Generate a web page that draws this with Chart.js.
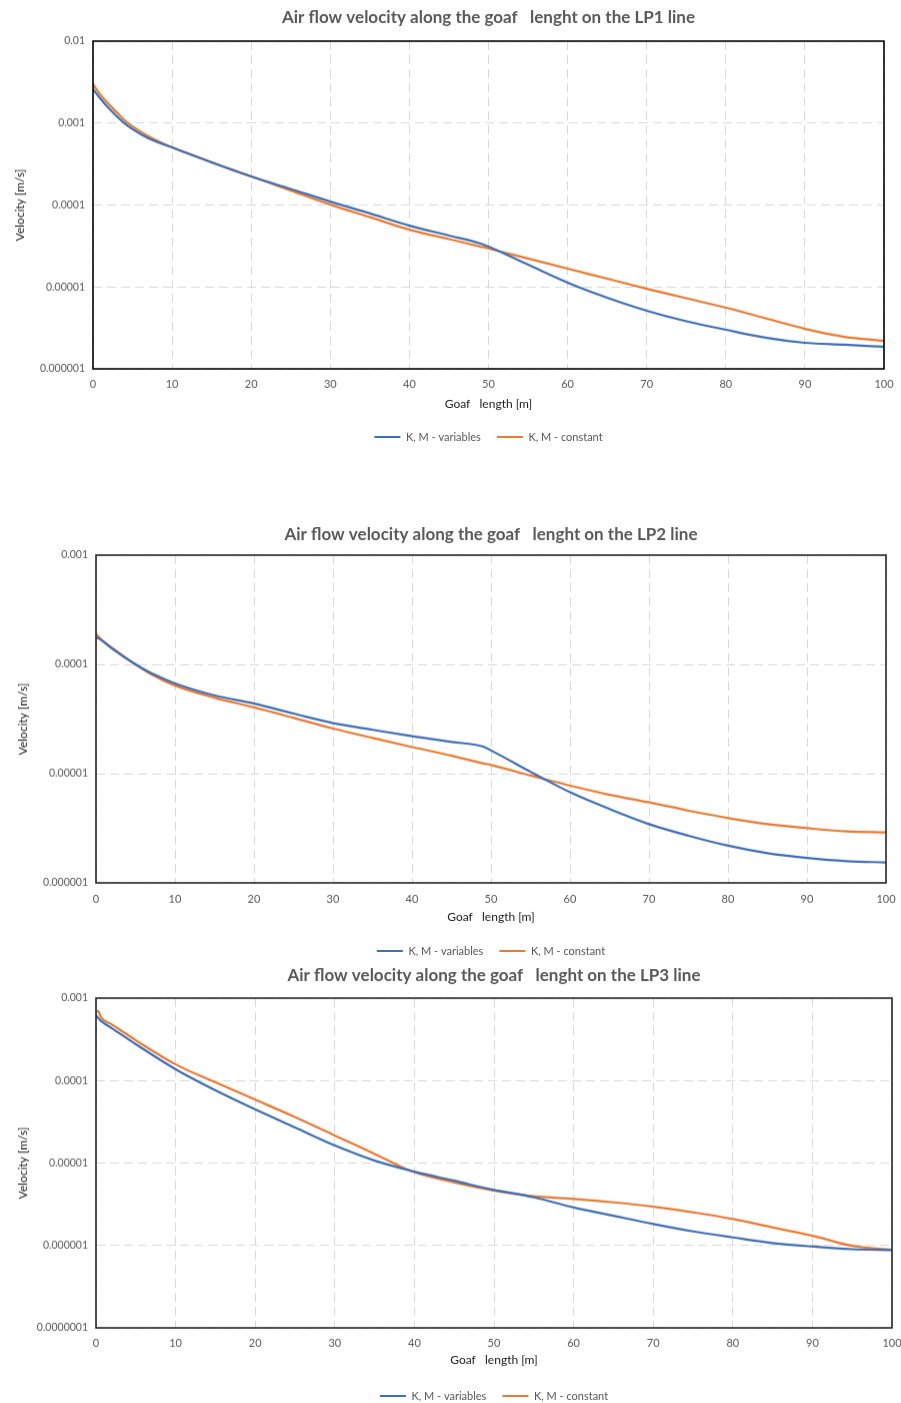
<!DOCTYPE html>
<html>
<head>
<meta charset="utf-8">
<script src="https://cdn.jsdelivr.net/npm/chart.js@4.4.1/dist/chart.umd.min.js"></script>
<style>
  html, body { margin: 0; padding: 0; background: #fff; overflow: hidden; }
  .box { position: absolute; left: 0; width: 901px; }
</style>
</head>
<body>
<div class="box" id="box1"><canvas id="lp1"></canvas></div>
<div class="box" id="box2"><canvas id="lp2"></canvas></div>
<div class="box" id="box3"><canvas id="lp3"></canvas></div>
<script>
const seriesNames = ["K, M - variables", "K, M - constant"];
const xAxisTitle = "Goaf   length [m]";
const yAxisTitle = "Velocity [m/s]";

// LP1 line
const lp1Title = "Air flow velocity along the goaf   lenght on the LP1 line";
const lp1Length = [0, 1, 2, 3, 4, 5, 7, 10, 15, 20, 25, 30, 35, 40, 45, 49, 50, 55, 60, 65, 70, 75, 80, 85, 90, 95, 100];
const lp1Variables = [2.59e-3, 1.95e-3, 1.51e-3, 1.21e-3, 9.9e-4, 8.4e-4, 6.5e-4, 5.05e-4, 3.31e-4, 2.23e-4, 1.57e-4, 1.10e-4, 7.9e-5, 5.6e-5, 4.24e-5, 3.38e-5, 3.1e-5, 1.87e-5, 1.13e-5, 7.4e-6, 5.13e-6, 3.81e-6, 3.0e-6, 2.4e-6, 2.08e-6, 1.97e-6, 1.86e-6];
const lp1Constant = [2.98e-3, 2.18e-3, 1.69e-3, 1.35e-3, 1.08e-3, 9.1e-4, 6.9e-4, 5.05e-4, 3.31e-4, 2.23e-4, 1.5e-4, 1.01e-4, 7.1e-5, 5.0e-5, 3.84e-5, 3.1e-5, 2.94e-5, 2.22e-5, 1.67e-5, 1.26e-5, 9.5e-6, 7.28e-6, 5.57e-6, 4.15e-6, 3.08e-6, 2.46e-6, 2.2e-6];
const lp1YTicks = [1e-6, 1e-5, 1e-4, 1e-3, 1e-2];
const lp1YLabels = ["0.000001", "0.00001", "0.0001", "0.001", "0.01"];

// LP2 line
const lp2Title = "Air flow velocity along the goaf   lenght on the LP2 line";
const lp2Length = [0, 0.5, 2, 5, 7, 10, 15, 20, 25, 30, 35, 40, 45, 49, 50, 55, 57, 60, 65, 70, 75, 80, 85, 90, 95, 100];
const lp2Variables = [1.77e-4, 1.7e-4, 1.4e-4, 1.0e-4, 8.3e-5, 6.7e-5, 5.2e-5, 4.38e-5, 3.55e-5, 2.9e-5, 2.52e-5, 2.2e-5, 1.95e-5, 1.77e-5, 1.63e-5, 1.04e-5, 8.7e-6, 6.75e-6, 4.74e-6, 3.45e-6, 2.7e-6, 2.19e-6, 1.87e-6, 1.69e-6, 1.58e-6, 1.54e-6];
const lp2Constant = [1.91e-4, 1.73e-4, 1.43e-4, 1.0e-4, 8.1e-5, 6.4e-5, 4.94e-5, 4.04e-5, 3.24e-5, 2.59e-5, 2.12e-5, 1.75e-5, 1.46e-5, 1.24e-5, 1.2e-5, 9.6e-6, 8.8e-6, 7.76e-6, 6.4e-6, 5.46e-6, 4.58e-6, 3.92e-6, 3.45e-6, 3.17e-6, 2.96e-6, 2.9e-6];
const lp2YTicks = [1e-6, 1e-5, 1e-4, 1e-3];
const lp2YLabels = ["0.000001", "0.00001", "0.0001", "0.001"];

// LP3 line
const lp3Title = "Air flow velocity along the goaf   lenght on the LP3 line";
const lp3Length = [0, 0.3, 0.6, 2, 5, 10, 15, 20, 25, 30, 35, 40, 45, 50, 52, 55, 60, 65, 70, 75, 80, 85, 90, 95, 100];
const lp3Variables = [6.2e-4, 5.7e-4, 5.3e-4, 4.31e-4, 2.76e-4, 1.37e-4, 7.6e-5, 4.47e-5, 2.7e-5, 1.63e-5, 1.07e-5, 7.86e-6, 6.1e-6, 4.71e-6, 4.37e-6, 3.83e-6, 2.89e-6, 2.29e-6, 1.82e-6, 1.48e-6, 1.25e-6, 1.07e-6, 9.7e-7, 9.0e-7, 8.77e-7];
const lp3Constant = [7.0e-4, 6.9e-4, 5.9e-4, 4.79e-4, 3.08e-4, 1.57e-4, 9.5e-5, 5.86e-5, 3.6e-5, 2.15e-5, 1.29e-5, 7.7e-6, 5.82e-6, 4.62e-6, 4.3e-6, 3.96e-6, 3.66e-6, 3.33e-6, 2.95e-6, 2.52e-6, 2.09e-6, 1.65e-6, 1.31e-6, 9.9e-7, 8.85e-7];
const lp3YTicks = [1e-7, 1e-6, 1e-5, 1e-4, 1e-3];
const lp3YLabels = ["0.0000001", "0.000001", "0.00001", "0.0001", "0.001"];

const FONT = "Lato, 'Open Sans', sans-serif";
const BLUE = "#3f6fb5";
const ORANGE = "#eb7a32";
const GREY_TEXT = "#595959";
const LEGEND_PAD = 16;
const LEGEND_FONT = 11;

// draws the box round the plot area
const framePlugin = {
  id: "frame",
  afterDatasetsDraw(chart, args, opts) {
    const a = chart.chartArea;
    const ctx = chart.ctx;
    ctx.save();
    ctx.strokeStyle = opts.color;
    ctx.lineWidth = opts.width;
    ctx.strokeRect(a.left, a.top, a.right - a.left, a.bottom - a.top);
    ctx.restore();
  },
};

function points(xs, ys) {
  return xs.map((x, i) => ({ x, y: ys[i] }));
}

function makeChart(canvasId, boxId, d, pos) {
  const box = document.getElementById(boxId);
  box.style.top = pos.top + "px";
  box.style.height = (pos.plotBottom - pos.top + 80) + "px";

  const titleLine = 17 * 1.2;
  const titleTop = pos.titleY - pos.top - titleLine / 2;
  const titleBottom = pos.plotTop - pos.top - titleTop - titleLine;
  const padLeft = 6;
  const xAxisHeight = pos.legendY - pos.plotBottom - LEGEND_PAD - LEGEND_FONT / 2;

  const chart = new Chart(document.getElementById(canvasId), {
    type: "line",
    data: {
      datasets: [
        { label: seriesNames[0], data: points(d.x, d.variables), borderColor: BLUE, backgroundColor: BLUE, borderWidth: 2.2, pointRadius: 0, pointStyle: "line", cubicInterpolationMode: "monotone" },
        { label: seriesNames[1], data: points(d.x, d.constant), borderColor: ORANGE, backgroundColor: ORANGE, borderWidth: 2.2, pointRadius: 0, pointStyle: "line", cubicInterpolationMode: "monotone" },
      ],
    },
    options: {
      responsive: true,
      maintainAspectRatio: false,
      animation: false,
      layout: { padding: { left: padLeft, right: 901 - pos.plotRight, top: 0, bottom: 0 } },
      plugins: {
        title: {
          display: true,
          fullSize: false,
          text: d.title,
          color: GREY_TEXT,
          font: { family: FONT, size: 17, weight: "bold", lineHeight: 1.2 },
          padding: { top: titleTop, bottom: titleBottom },
        },
        legend: {
          position: "bottom",
          fullSize: false,
          labels: {
            color: GREY_TEXT,
            font: { family: FONT, size: LEGEND_FONT },
            usePointStyle: true,
            pointStyleWidth: 26,
            padding: LEGEND_PAD,
          },
        },
        tooltip: { enabled: false },
        frame: { color: pos.frameColor, width: 1.6 },
      },
      scales: {
        x: {
          type: "linear",
          min: 0,
          max: 100,
          ticks: { stepSize: 10, color: GREY_TEXT, font: { family: FONT, size: 11 }, padding: pos.xLabelY - pos.plotBottom - 6.6, maxRotation: 0 },
          grid: { color: "#d9d9d9", lineWidth: 1, drawTicks: false },
          border: { display: false, dash: [9, 5] },
          title: {
            display: true,
            text: xAxisTitle,
            color: "#1a1a1a",
            font: { family: FONT, size: 12, lineHeight: 1.2 },
            padding: { top: 0, bottom: pos.plotBottom + xAxisHeight - pos.xTitleY - 7.2 },
          },
          afterFit: (s) => { s.height = xAxisHeight; s.paddingLeft = 0; s.paddingRight = 0; },
        },
        y: {
          type: "logarithmic",
          min: d.yTicks[0],
          max: d.yTicks[d.yTicks.length - 1],
          afterBuildTicks: (s) => { s.ticks = d.yTicks.map((v) => ({ value: v })); },
          ticks: { autoSkip: false, color: GREY_TEXT, font: { family: FONT, size: 10.5 }, padding: 8, callback: (v, i) => d.yLabels[i] },
          grid: { color: "#d9d9d9", lineWidth: 1, drawTicks: false },
          border: { display: false, dash: [9, 5] },
          title: {
            display: true,
            text: yAxisTitle,
            color: "#1a1a1a",
            font: { family: FONT, size: 12, lineHeight: 1.2 },
            padding: { top: pos.yTitleX - padLeft - 7.2, bottom: 0 },
          },
          afterFit: (s) => { s.width = pos.plotLeft - padLeft; },
        },
      },
    },
    plugins: [framePlugin],
  });

  // set the box height so the plot bottom lands where it should
  const diff = pos.plotBottom - pos.top - chart.chartArea.bottom;
  box.style.height = (box.clientHeight + diff) + "px";
  chart.resize();
  return chart;
}

makeChart("lp1", "box1",
  { title: lp1Title, x: lp1Length, variables: lp1Variables, constant: lp1Constant, yTicks: lp1YTicks, yLabels: lp1YLabels },
  { top: 0, plotTop: 41, plotBottom: 368, plotLeft: 93, plotRight: 884, titleY: 18, yTitleX: 20, xLabelY: 383, xTitleY: 403, legendY: 436, frameColor: "#000000" });

makeChart("lp2", "box2",
  { title: lp2Title, x: lp2Length, variables: lp2Variables, constant: lp2Constant, yTicks: lp2YTicks, yLabels: lp2YLabels },
  { top: 505, plotTop: 555, plotBottom: 882, plotLeft: 96, plotRight: 886, titleY: 535, yTitleX: 23, xLabelY: 898, xTitleY: 916, legendY: 950, frameColor: "#262626" });

makeChart("lp3", "box3",
  { title: lp3Title, x: lp3Length, variables: lp3Variables, constant: lp3Constant, yTicks: lp3YTicks, yLabels: lp3YLabels },
  { top: 955, plotTop: 998, plotBottom: 1327, plotLeft: 96, plotRight: 892, titleY: 976, yTitleX: 23, xLabelY: 1342, xTitleY: 1359, legendY: 1395, frameColor: "#262626" });
</script>
</body>
</html>
